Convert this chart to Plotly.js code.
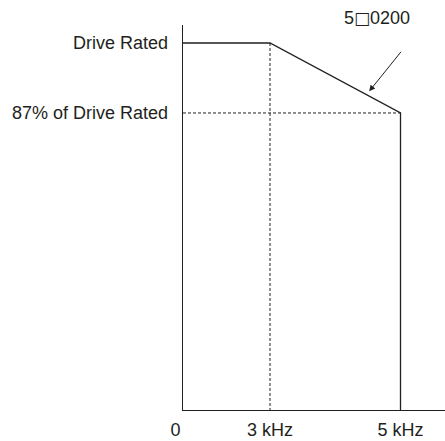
<!DOCTYPE html>
<html>
<head>
<meta charset="utf-8">
<script src="https://cdn.plot.ly/plotly-3.0.1.min.js"></script>
<style>html,body{margin:0;padding:0;background:#fff;}#chart{width:445px;height:441px;}</style>
</head>
<body>
<div id="chart"></div>
<script>
// Schematic frequency positions (axis is not to scale) and their labels
const freqPos = [0, 2, 5];
const freqLabels = ['0\u00a0\u00a0\u00a0', '3 kHz', '5 kHz'];
// Output current in % of drive rated
const currentPct = [100, 100, 87];
const yTickVals = [100, 87];
const yTickText = ['Drive Rated', '87% of Drive Rated'];
const seriesName = '5<span style="font-family:\'DejaVu Sans\';font-size:17px">\u25A1</span>0200';

const yRange = [31.84, 103.34];
const xRange = [0, 6.023];
const ink = '#231f20';
const font = {family: '"Liberation Sans", Arial, sans-serif', size: 18, color: ink};

// derating curve: flat, slope, then drop to bottom at 5 kHz
const curveX = freqPos.concat([freqPos[2]]);
const curveY = currentPct.concat([yRange[0]]);

const traces = [
  {x: curveX, y: curveY, mode: 'lines', line: {color: ink, width: 1.3}, hoverinfo: 'skip'},
  // dashed guide: vertical at 3 kHz
  {x: [freqPos[1], freqPos[1]], y: [currentPct[1], yRange[0]], mode: 'lines',
   line: {color: ink, width: 1, dash: '3px,2px'}, hoverinfo: 'skip'},
  // dashed guide: horizontal at 87%
  {x: [freqPos[0], freqPos[2]], y: [currentPct[2], currentPct[2]], mode: 'lines',
   line: {color: ink, width: 1, dash: '3px,2px'}, hoverinfo: 'skip'}
];

// arrow head point lies just above the sloping segment
const t = 0.76;
const arrowX = freqPos[1] + t * (freqPos[2] - freqPos[1]);
const arrowY = currentPct[1] + t * (currentPct[2] - currentPct[1]) + 0.9;

const layout = {
  width: 445, height: 441,
  margin: {l: 183, r: 0, t: 25, b: 31, pad: 0},
  paper_bgcolor: '#fff', plot_bgcolor: '#fff',
  showlegend: false,
  font: font,
  xaxis: {
    range: xRange, showgrid: false, zeroline: false,
    showline: true, linecolor: ink, linewidth: 1.3,
    tickmode: 'array', tickvals: freqPos, ticktext: freqLabels,
    ticks: 'outside', ticklen: 3, tickcolor: 'rgba(0,0,0,0)',
    tickfont: font, fixedrange: true
  },
  yaxis: {
    range: yRange, showgrid: false, zeroline: false,
    showline: true, linecolor: ink, linewidth: 1.3,
    tickmode: 'array', tickvals: yTickVals, ticktext: yTickText,
    ticks: 'outside', ticklen: 10, tickcolor: 'rgba(0,0,0,0)',
    tickfont: font, fixedrange: true
  },
  annotations: [
    {x: 4.46, y: 1.018, xref: 'x', yref: 'paper', text: seriesName, showarrow: false,
     font: font, xanchor: 'center', yanchor: 'middle'},
    {x: arrowX, y: arrowY, xref: 'x', yref: 'y', text: '', showarrow: true,
     ax: 33, ay: -41, arrowhead: 2, arrowsize: 1.2, arrowwidth: 1, arrowcolor: ink}
  ]
};

Plotly.newPlot('chart', traces, layout, {staticPlot: true, displayModeBar: false});
</script>
</body>
</html>
